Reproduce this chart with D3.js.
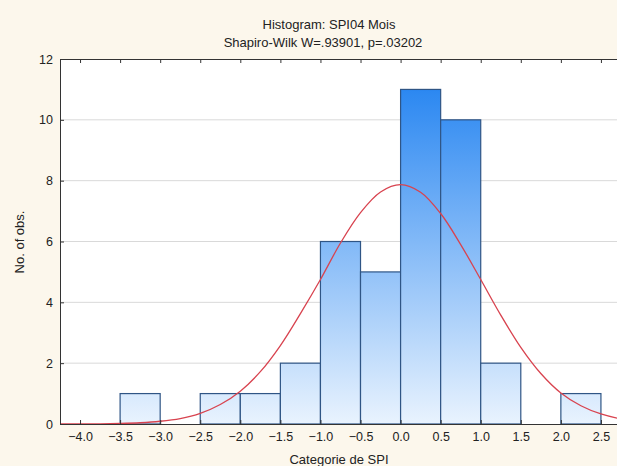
<!DOCTYPE html>
<html><head><meta charset="utf-8">
<script src="https://cdn.jsdelivr.net/npm/d3@7"></script>
<style>
html,body{margin:0;padding:0;background:#fcf7ec;}
svg{display:block;}
text{font-family:"Liberation Sans",Arial,sans-serif;fill:#222;}
</style></head>
<body>
<svg id="chart" width="617" height="466"></svg>
<script>
// Histogram bins (lower edge, upper edge) and counts
const binStarts = [-3.5, -2.5, -2.0, -1.5, -1.0, -0.5, 0.0, 0.5, 1.0, 2.0];
const binEnds   = [-3.0, -2.0, -1.5, -1.0, -0.5, 0.0, 0.5, 1.0, 1.5, 2.5];
const counts    = [1, 1, 1, 2, 6, 5, 11, 10, 2, 1];
// Fitted normal curve
const curveX = [-4.25,-4.0,-3.75,-3.5,-3.25,-3.0,-2.75,-2.5,-2.25,-2.0,-1.75,-1.5,-1.25,-1.0,-0.75,-0.5,-0.25,0.0,0.25,0.5,0.75,1.0,1.25,1.5,1.75,2.0,2.25,2.5,2.75,3.0];
const curveY = [0.001,0.003,0.007,0.018,0.041,0.09,0.18,0.35,0.64,1.08,1.72,2.58,3.63,4.75,5.95,6.95,7.63,7.87,7.62,6.92,5.9,4.75,3.58,2.52,1.66,1.02,0.6,0.33,0.17,0.085];
const xTicks = [-4.0,-3.5,-3.0,-2.5,-2.0,-1.5,-1.0,-0.5,0.0,0.5,1.0,1.5,2.0,2.5];
const yTicks = [0,2,4,6,8,10,12];
const title1 = "Histogram: SPI04 Mois";
const title2 = "Shapiro-Wilk W=.93901, p=.03202";
const xLabel = "Categorie de SPI";
const yLabel = "No. of obs.";

const svg = d3.select("#chart");
const L = 60, T = 59, B = 424, R = 641;
const x = d3.scaleLinear().domain([-4.25, 3.0]).range([L, R]);
const y = d3.scaleLinear().domain([0, 12]).range([B, T]);

// background
svg.append("rect").attr("width",617).attr("height",466).attr("fill","#fcf7ec");
svg.append("rect").attr("x",L).attr("y",T).attr("width",R-L).attr("height",B-T).attr("fill","#ffffff");

// gradient
const defs = svg.append("defs");
const g = defs.append("linearGradient").attr("id","barGrad")
  .attr("gradientUnits","userSpaceOnUse").attr("x1",0).attr("x2",0).attr("y1",B).attr("y2",T);
g.append("stop").attr("offset","0%").attr("stop-color","#e9f3fe");
g.append("stop").attr("offset","100%").attr("stop-color","#1a7ef0");

// gridlines
svg.append("g").selectAll("line").data(yTicks.filter(d=>d>0 && d<12)).join("line")
  .attr("x1",L).attr("x2",R).attr("y1",d=>y(d)).attr("y2",d=>y(d))
  .attr("stroke","#d9d9d9").attr("stroke-width",1);

// bars
svg.append("g").selectAll("rect").data(counts).join("rect")
  .attr("x",(d,i)=>x(binStarts[i]))
  .attr("width",(d,i)=>x(binEnds[i])-x(binStarts[i]))
  .attr("y",d=>y(d)).attr("height",d=>B-y(d))
  .attr("fill","url(#barGrad)")
  .attr("stroke","#2f5585").attr("stroke-width",1.2);

// curve
const pts = curveX.map((v,i)=>[v,curveY[i]]);
svg.append("path").datum(pts)
  .attr("d",d3.line().x(d=>x(d[0])).y(d=>y(d[1])).curve(d3.curveCatmullRom))
  .attr("fill","none").attr("stroke","#d8434f").attr("stroke-width",1.3);

// axes
const xAxis = svg.append("g").attr("transform",`translate(0,${B})`)
  .call(d3.axisBottom(x).tickValues(xTicks).tickFormat(d3.format(".1f")).tickSizeInner(-4).tickSizeOuter(0));
const xTop = svg.append("g").attr("transform",`translate(0,${T})`)
  .call(d3.axisTop(x).tickValues(xTicks).tickFormat("").tickSizeInner(-4).tickSizeOuter(0));
const yAxis = svg.append("g").attr("transform",`translate(${L},0)`)
  .call(d3.axisLeft(y).tickValues(yTicks).tickFormat(d3.format("d")).tickSizeInner(-4).tickSizeOuter(0));
[xAxis,xTop,yAxis].forEach(a=>{
  a.select(".domain").attr("stroke","#333");
  a.selectAll(".tick line").attr("stroke","#333");
  a.selectAll(".tick text").attr("font-size",12.5).attr("fill","#222").attr("font-family",'"Liberation Sans",Arial,sans-serif');
});
xAxis.selectAll(".tick text").attr("dy","0.71em").attr("y",8);
yAxis.selectAll(".tick text").attr("x",-7);

// titles
svg.append("text").attr("x",329).attr("y",29).attr("text-anchor","middle").attr("font-size",13).text(title1);
svg.append("text").attr("x",323).attr("y",47).attr("text-anchor","middle").attr("font-size",13).text(title2);
svg.append("text").attr("x",339).attr("y",464).attr("text-anchor","middle").attr("font-size",13).text(xLabel);
svg.append("text").attr("transform","translate(24,242) rotate(-90)").attr("text-anchor","middle").attr("font-size",13).text(yLabel);
</script>
</body></html>
